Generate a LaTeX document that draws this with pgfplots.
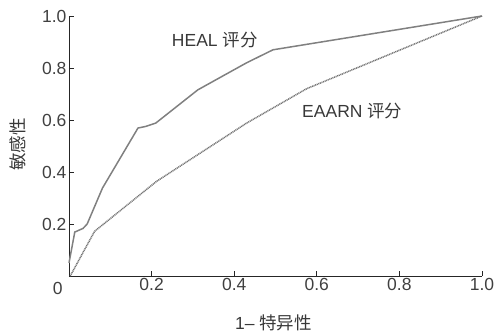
\documentclass[border=0pt]{standalone}
\usepackage{pgfplots}
\pgfplotsset{compat=1.18}
\usepackage{fontspec}
\setmainfont{Liberation Sans}
\newfontfamily\cjk{Noto Sans CJK SC}
\begin{document}
\begin{tikzpicture}
\begin{axis}[
  name=ax,
  scale only axis,
  width=413pt, height=260pt,
  xmin=0, xmax=1, ymin=0, ymax=1,
  axis lines=left,
  axis line style={-, black!85, line width=0.9pt},
  tick style={black!85, line width=0.9pt},
  tick align=inside,
  major tick length=5pt,
  xtick={0.2,0.4,0.6,0.8,1.0},
  ytick={0.2,0.4,0.6,0.8,1.0},
  xticklabels={0.2,0.4,0.6,0.8,1.0},
  yticklabels={0.2,0.4,0.6,0.8,1.0},
  ticklabel style={font=\fontsize{17.5}{19}\selectfont, text=black!75},
  /pgf/number format/assume math mode=true,
  xticklabel style={yshift=1pt},
  yticklabel style={xshift=1pt},
  clip=false,
]
\addplot[color=black!50, line width=1.5pt] coordinates {
(0,0.05) (0.014,0.169) (0.034,0.183) (0.044,0.20) (0.081,0.338) (0.167,0.569) (0.185,0.575) (0.210,0.588) (0.312,0.716) (0.43,0.82) (0.494,0.870) (1.0,1.0)
};
\addplot[color=black!55, line width=1.5pt, dash pattern=on 1pt off 0.7pt] coordinates {
(0.003,0) (0.062,0.172) (0.212,0.364) (0.43,0.588) (0.575,0.72) (1.0,1.0)
};
\node[font=\fontsize{17.5}{19}\selectfont, text=black!78] at (axis cs:0.353,0.907) {HEAL {\cjk 评分}};
\node[font=\fontsize{17.5}{19}\selectfont, text=black!78] at (axis cs:0.686,0.636) {EAARN {\cjk 评分}};
\node[font=\fontsize{17.5}{19}\selectfont, text=black!75] at (axis cs:-0.027,-0.047) {0};
\node[font=\fontsize{17.5}{19}\selectfont, text=black!78] at (axis cs:0.495,-0.18) {1– {\cjk 特异性}};
\node[font=\fontsize{17.5}{19}\selectfont, text=black!78, rotate=90] at (axis cs:-0.124,0.505) {\cjk 敏感性};
\end{axis}
\pgfresetboundingbox
\path ([shift={(-69pt,-57pt)}]ax.south west) rectangle ([shift={(13pt,16pt)}]ax.north east);
\end{tikzpicture}
\end{document}
